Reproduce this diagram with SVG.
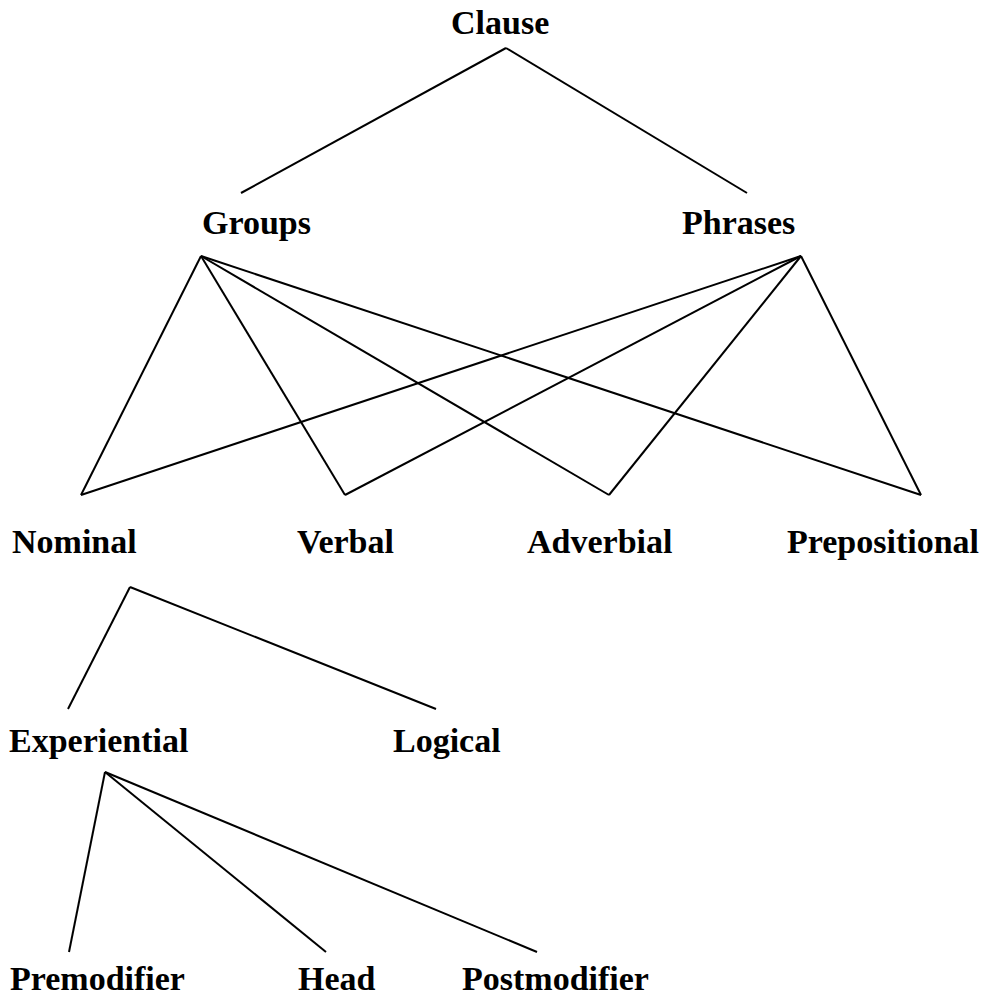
<svg xmlns="http://www.w3.org/2000/svg" width="984" height="996" viewBox="0 0 984 996">
<style>
text{font-family:"Liberation Serif","Times New Roman",serif;font-weight:bold;font-size:34px;fill:#000}
.c line{stroke:#000;stroke-width:2;stroke-linecap:butt}
</style>
<rect width="984" height="996" fill="#fff"/>
<g class="c" id="connectors">
<line x1="506" y1="48" x2="241" y2="193"/>
<line x1="506" y1="48" x2="747" y2="193"/>
<line x1="201" y1="256" x2="81" y2="495"/>
<line x1="201" y1="256" x2="345" y2="495"/>
<line x1="201" y1="256" x2="609" y2="495"/>
<line x1="201" y1="256" x2="921" y2="495"/>
<line x1="801" y1="256" x2="81" y2="495"/>
<line x1="801" y1="256" x2="345" y2="495"/>
<line x1="801" y1="256" x2="609" y2="495"/>
<line x1="801" y1="256" x2="921" y2="495"/>
<line x1="130" y1="587" x2="68" y2="709"/>
<line x1="130" y1="587" x2="436" y2="709"/>
<line x1="105" y1="772" x2="69" y2="952"/>
<line x1="105" y1="772" x2="326" y2="952"/>
<line x1="105" y1="772" x2="537" y2="952"/>
</g>
<g id="clause"><text x="451" y="34">Clause</text></g>
<g id="groups"><text x="202" y="234">Groups</text></g>
<g id="phrases"><text x="682" y="234">Phrases</text></g>
<g id="nominal"><text x="12" y="553">Nominal</text></g>
<g id="verbal"><text x="297" y="553">Verbal</text></g>
<g id="adverbial"><text x="527" y="553">Adverbial</text></g>
<g id="prepositional"><text x="787" y="553">Prepositional</text></g>
<g id="experiential"><text x="9" y="752">Experiential</text></g>
<g id="logical"><text x="393" y="752">Logical</text></g>
<g id="premodifier"><text x="10" y="990">Premodifier</text></g>
<g id="head"><text x="298" y="990">Head</text></g>
<g id="postmodifier"><text x="462" y="990">Postmodifier</text></g>
</svg>
